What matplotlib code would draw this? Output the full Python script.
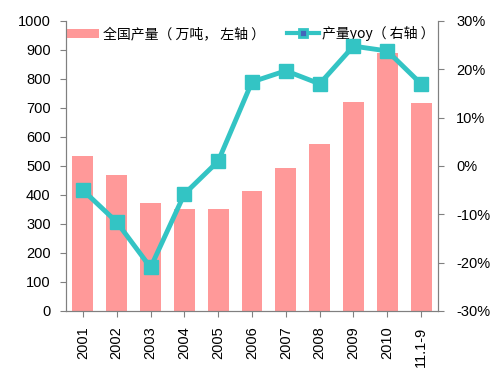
import matplotlib.pyplot as plt
from matplotlib.lines import Line2D
from matplotlib.ticker import FuncFormatter

years = ['2001', '2002', '2003', '2004', '2005', '2006', '2007', '2008', '2009', '2010', '11.1-9']
output = [534, 469, 372, 352, 352, 414, 493, 576, 721, 890, 717]
yoy = [-5.0, -11.6, -21.0, -5.8, 1.0, 17.4, 19.7, 17.0, 24.8, 23.8, 17.0]

plt.rcParams['font.family'] = ['Liberation Sans', 'Noto Sans CJK SC', 'DejaVu Sans']

fig = plt.figure(figsize=(5.02, 3.75), dpi=100)
ax = fig.add_axes([0.1315, 0.1707, 0.741, 0.7733])
ax2 = ax.twinx()

x = range(len(years))
bars = ax.bar(x, output, width=0.62, color='#FF9999')
ax2.plot(x, yoy, color='#33C4C4', lw=3.5, marker='s', ms=10,
         mfc='#33C4C4', mec='#33C4C4')

ax.set_ylim(0, 1000)
ax.set_yticks(range(0, 1001, 100))
ax.set_xlim(-0.5, len(years) - 0.5)
ax.set_xticks(list(x))
ax.set_xticklabels(years, rotation=90)
ax2.set_ylim(-30, 30)
ax2.set_yticks(range(-30, 31, 10))
ax2.yaxis.set_major_formatter(FuncFormatter(lambda v, p: '%d%%' % v))

for a in (ax, ax2):
    a.spines['top'].set_visible(False)
    for s in a.spines.values():
        s.set_color('#808080')
        s.set_linewidth(0.8)
    a.tick_params(direction='out', length=4, color='#808080', labelsize=10.5, labelcolor='black')
ax.tick_params(axis='y', pad=7)
ax.tick_params(axis='x', pad=7)
ax2.tick_params(axis='y', pad=9)

# legend handle for the line: small square with a dark centre
line_handle = Line2D([], [], color='#33C4C4', lw=3, marker='s', ms=6,
                     mfc='#4466BB', mec='#33C4C4', mew=2)
ax.legend([bars, line_handle], ['全国产量（ 万吨， 左轴 ）', '产量yoy（ 右轴 ）'], ncol=2, frameon=False,
          loc='upper left', bbox_to_anchor=(-0.03, 1.025),
          handlelength=2.3, columnspacing=1.6, handletextpad=0.25,
          prop={'family': ['Noto Sans CJK SC', 'DejaVu Sans'], 'size': 10})

fig.savefig('out.png', dpi=100)
